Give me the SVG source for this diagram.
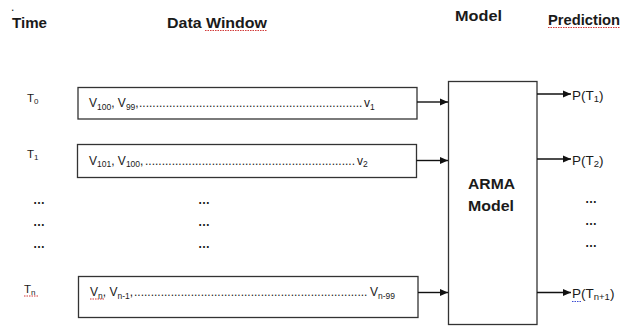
<svg xmlns="http://www.w3.org/2000/svg" width="622" height="326" viewBox="0 0 622 326">
<style>
.h{font-family:"Liberation Sans",Arial,sans-serif;font-weight:bold;font-size:14px;fill:#1a1a1a}
.t{font-family:"Liberation Sans",Arial,sans-serif;font-size:12px;fill:#1a1a1a}
.lb{font-family:"Liberation Sans",Arial,sans-serif;font-size:11.5px;fill:#1a1a1a}
.p{font-family:"Liberation Sans",Arial,sans-serif;font-size:13.5px;fill:#1a1a1a}
.el{font-family:"Liberation Sans",Arial,sans-serif;font-size:12px;font-weight:bold;fill:#1a1a1a}
.box{fill:#fff;stroke:#333;stroke-width:1.3}
.c{stroke:#111;stroke-width:1.4;fill:none;marker-end:url(#ah)}
.sq{stroke:#d23a3a;stroke-width:1;stroke-dasharray:1.5 1;fill:none}
.sqb{stroke:#3a4ad2;stroke-width:1;stroke-dasharray:1.5 1;fill:none}
</style>
<defs>
<marker id="ah" markerWidth="9" markerHeight="9" refX="8" refY="4" orient="auto" markerUnits="userSpaceOnUse">
<path d="M0,0.5 L8,4 L0,7.5 z" fill="#111"/>
</marker>
</defs>
<rect width="622" height="326" fill="#fff"/>
<text class="t" x="11" y="10.5" font-size="6">.</text>
<g id="headers">
<text class="h" x="12" y="28" textLength="35" lengthAdjust="spacingAndGlyphs">Time</text>
<text class="h" x="167" y="28" textLength="100" lengthAdjust="spacingAndGlyphs">Data Window</text>
<text class="h" x="455" y="21" textLength="47" lengthAdjust="spacingAndGlyphs">Model</text>
<text class="h" x="548" y="25" textLength="72" lengthAdjust="spacingAndGlyphs">Prediction</text>
<path class="sq" d="M205,30.5 H267 M548,27.5 H620"/>
</g>
<g id="time-labels">
<text class="lb" x="27" y="102">T<tspan font-size="8" dy="1.5">0</tspan></text>
<text class="lb" x="27" y="158">T<tspan font-size="8" dy="1.5">1</tspan></text>
<text class="el" x="33" y="204">…</text>
<text class="el" x="33" y="226">…</text>
<text class="el" x="33" y="248">…</text>
<text class="lb" x="24" y="293">T<tspan font-size="8" dy="1.5">n</tspan></text>
<path class="sq" d="M24,296 H39"/>
</g>
<g id="mid-ellipsis">
<text class="el" x="198" y="204">…</text>
<text class="el" x="198" y="226">…</text>
<text class="el" x="198" y="248">…</text>
</g>
<g id="window1">
<rect class="box" x="78" y="87.5" width="339" height="31.5"/>
<text class="t" x="89" y="107">V<tspan font-size="8.5" dy="2.5">100</tspan><tspan dy="-2.5">, V</tspan><tspan font-size="8.5" dy="2.5">99</tspan><tspan dy="-2.5">,</tspan><tspan x="139">...................................................................</tspan><tspan x="364">v</tspan><tspan font-size="8.5" dy="2.5">1</tspan></text>
</g>
<g id="window2">
<rect class="box" x="77.5" y="144.5" width="339" height="33"/>
<text class="t" x="89" y="164.5">V<tspan font-size="8.5" dy="2.5">101</tspan><tspan dy="-2.5">, V</tspan><tspan font-size="8.5" dy="2.5">100</tspan><tspan dy="-2.5">,</tspan><tspan x="145">...............................................................</tspan><tspan x="357">v</tspan><tspan font-size="8.5" dy="2.5">2</tspan></text>
</g>
<g id="window3">
<rect class="box" x="78.5" y="276.5" width="339.5" height="41"/>
<text class="t" x="90" y="296">V<tspan font-size="8.5" dy="2.5">n</tspan><tspan dy="-2.5">, V</tspan><tspan font-size="8.5" dy="2.5">n-1</tspan><tspan dy="-2.5">,</tspan><tspan x="134">......................................................................</tspan><tspan x="370">V</tspan><tspan font-size="8.5" dy="2.5">n-99</tspan></text>
<path class="sq" d="M90,299 H105"/>
</g>
<g id="model">
<rect class="box" x="448.5" y="81.5" width="88.5" height="243"/>
<text class="h" x="468" y="189" font-size="15" textLength="47" lengthAdjust="spacingAndGlyphs">ARMA</text>
<text class="h" x="468" y="211" font-size="15" textLength="46" lengthAdjust="spacingAndGlyphs">Model</text>
</g>
<g id="predictions">
<text class="p" x="572" y="100">P(T<tspan font-size="9.5" dy="2">1</tspan><tspan dy="-2">)</tspan></text>
<text class="p" x="572" y="164.5">P(T<tspan font-size="9.5" dy="2">2</tspan><tspan dy="-2">)</tspan></text>
<text class="el" x="585" y="203">…</text>
<text class="el" x="585" y="225">…</text>
<text class="el" x="585" y="247">…</text>
<text class="p" x="572" y="298">P(T<tspan font-size="9.5" dy="2">n+1</tspan><tspan dy="-2">)</tspan></text>
<path class="sqb" d="M572,301.5 H581"/>
</g>
<g id="connectors">
<line class="c" x1="417" y1="102" x2="448" y2="102"/>
<line class="c" x1="416.5" y1="160.5" x2="448" y2="160.5"/>
<line class="c" x1="418" y1="292.5" x2="448" y2="292.5"/>
<line class="c" x1="537" y1="94" x2="571" y2="94"/>
<line class="c" x1="537" y1="159" x2="571" y2="159"/>
<line class="c" x1="537" y1="292.5" x2="571" y2="292.5"/>
</g>
</svg>
